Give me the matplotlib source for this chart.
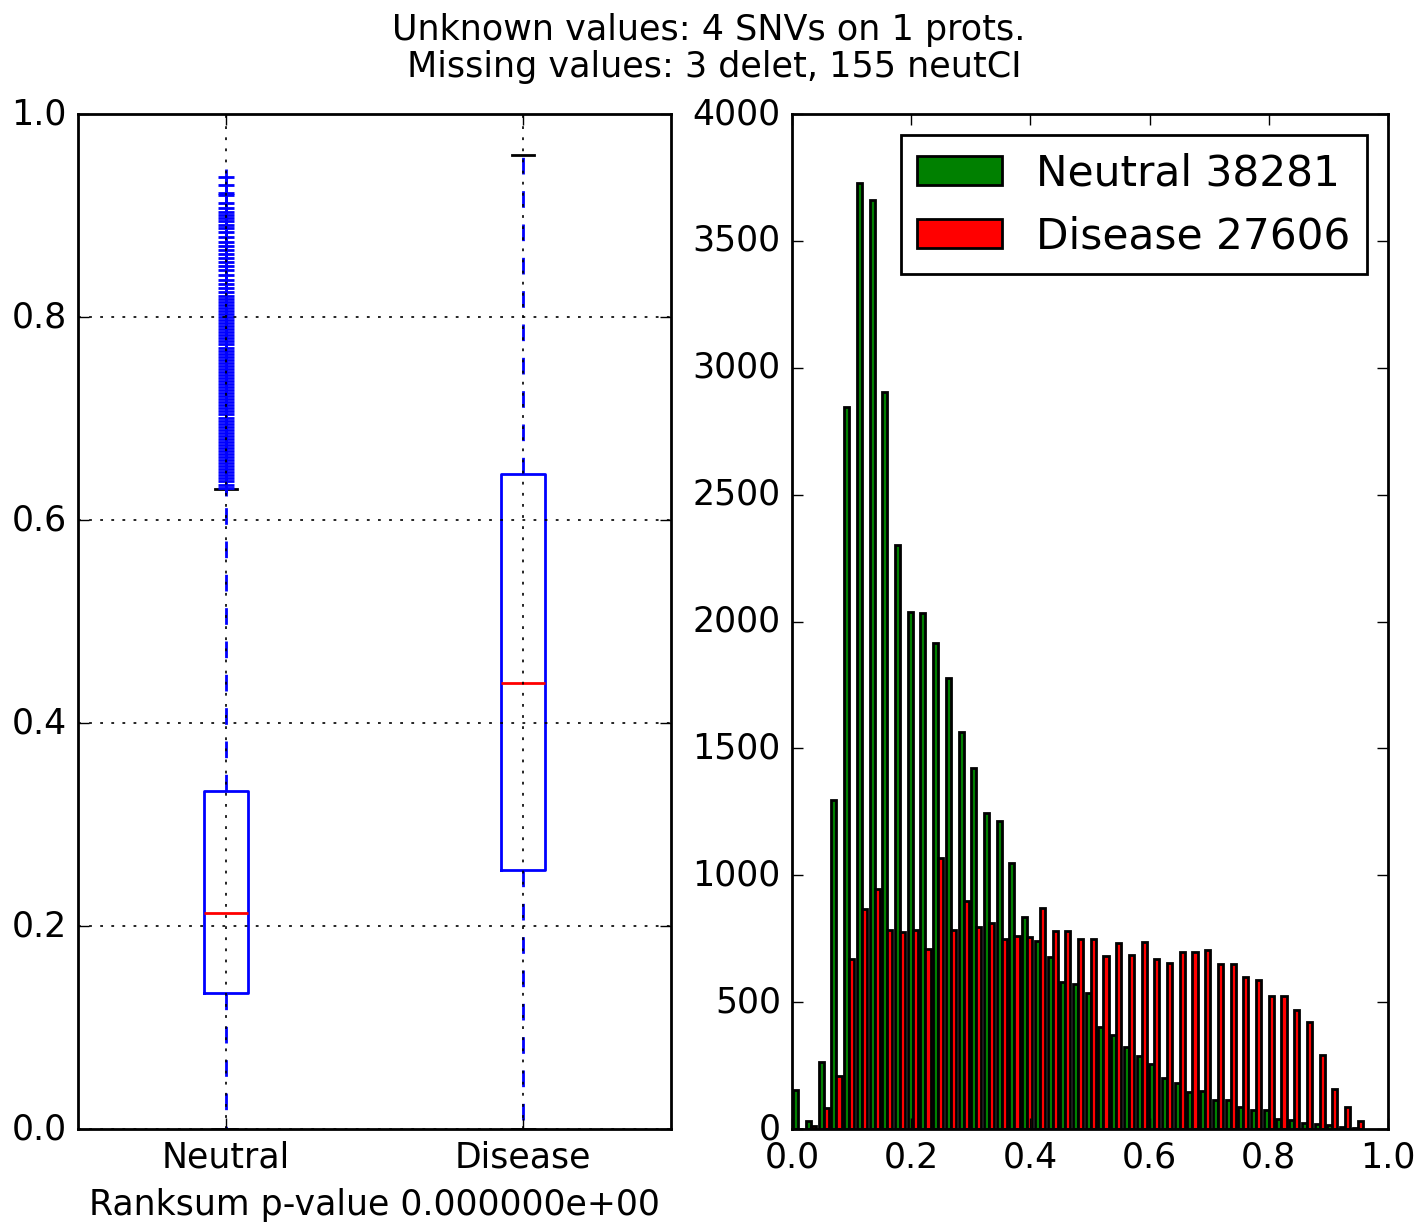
import numpy as np
import matplotlib
matplotlib.use("Agg")
import matplotlib.pyplot as plt

plt.style.use("classic")
plt.rcParams["font.family"] = ["DejaVu Sans"]
plt.rcParams["font.size"] = 12.5
plt.rcParams["figure.facecolor"] = "white"
plt.rcParams["savefig.facecolor"] = "white"

# ---- box plot summary (score per class) ----
groups = ["Neutral", "Disease"]
box_q1 = [0.134, 0.255]
box_median = [0.213, 0.439]
box_q3 = [0.333, 0.645]
whisker_low = [0.0, 0.0]
whisker_high = [0.631, 0.960]
neutral_fliers = [
    0.632, 0.635, 0.638, 0.641, 0.644, 0.647, 0.650, 0.653, 0.656, 0.659,
    0.662, 0.665, 0.668, 0.671, 0.674, 0.677, 0.680, 0.683, 0.686, 0.689,
    0.692, 0.695, 0.698, 0.701, 0.704, 0.707, 0.710, 0.713, 0.716, 0.719,
    0.722, 0.725, 0.728, 0.731, 0.734, 0.737, 0.740, 0.743, 0.746, 0.749,
    0.752, 0.755, 0.758, 0.761, 0.764, 0.767, 0.770, 0.773, 0.776, 0.779,
    0.782, 0.785, 0.788, 0.791, 0.794, 0.797, 0.800, 0.803, 0.806, 0.809,
    0.812, 0.815, 0.818, 0.821, 0.825, 0.829, 0.833, 0.837, 0.841, 0.846,
    0.850, 0.854, 0.858, 0.862, 0.866, 0.870, 0.874, 0.879, 0.884, 0.888,
    0.891, 0.895, 0.898, 0.901, 0.904, 0.907, 0.912, 0.920, 0.922, 0.930,
    0.938,
]
disease_fliers = []
pvalue_label = "Ranksum p-value 0.000000e+00"

# ---- histogram counts (45 equal bins over the score range) ----
hist_range = (0.0, 0.96)
neutral_counts = [
    155, 30, 265, 1296, 2846, 3728, 3660, 2903, 2301, 2037,
    2034, 1916, 1778, 1566, 1424, 1244, 1215, 1048, 835, 742,
    678, 578, 571, 536, 401, 372, 322, 286, 257, 201,
    181, 146, 151, 113, 113, 85, 76, 76, 39, 37,
    24, 21, 14, 8, 3,
]
disease_counts = [
    0, 10, 83, 208, 670, 867, 945, 783, 775, 783,
    710, 1068, 783, 898, 796, 810, 750, 760, 755, 871,
    782, 782, 750, 747, 683, 732, 686, 738, 671, 654,
    696, 696, 705, 651, 649, 598, 586, 523, 525, 469,
    422, 290, 158, 88, 32,
]
hist_labels = ["Neutral 38281", "Disease 27606"]
hist_colors = ["g", "r"]

title = "Unknown values: 4 SNVs on 1 prots.\n Missing values: 3 delet, 155 neutCI"

fig = plt.figure(figsize=(7.09, 6.12), dpi=200)
ax1 = fig.add_axes([0.0550, 0.0776, 0.4182, 0.8292])
ax2 = fig.add_axes([0.5585, 0.0776, 0.4203, 0.8292])

# left: box plots built from the summary statistics
stats = []
fliers_all = [neutral_fliers, disease_fliers]
for i, g in enumerate(groups):
    stats.append(dict(label=g, q1=box_q1[i], med=box_median[i], q3=box_q3[i],
                      whislo=whisker_low[i], whishi=whisker_high[i],
                      fliers=fliers_all[i]))
ax1.bxp(stats, positions=[1, 2], widths=0.15,
        flierprops=dict(marker="+", markeredgecolor="b", markersize=6,
                        markeredgewidth=1.0, linestyle="none"))
ax1.set_xlim(0.5, 2.5)
ax1.set_ylim(0, 1)
ax1.set_yticks(np.arange(0, 1.01, 0.2))
ax1.set_axisbelow(False)
ax1.grid(True, color="k", linestyle=":", linewidth=0.6)
ax1.set_xlabel(pvalue_label)

# right: side-by-side histogram of both classes
edges = np.linspace(hist_range[0], hist_range[1], len(neutral_counts) + 1)
centers = (edges[:-1] + edges[1:]) / 2
ax2.hist([centers, centers], bins=edges,
         weights=[neutral_counts, disease_counts],
         color=hist_colors, edgecolor="k", linewidth=1.0, label=hist_labels)
ax2.set_xlim(0, 1)
ax2.set_ylim(0, 4000)
ax2.set_xticks(np.arange(0, 1.01, 0.2))
ax2.set_yticks(np.arange(0, 4001, 500))
ax2.legend(loc="upper right", fontsize=15.2)

fig.suptitle(title, fontsize=12.6, y=0.989, linespacing=1.1)

fig.savefig("out.png", dpi=200)
